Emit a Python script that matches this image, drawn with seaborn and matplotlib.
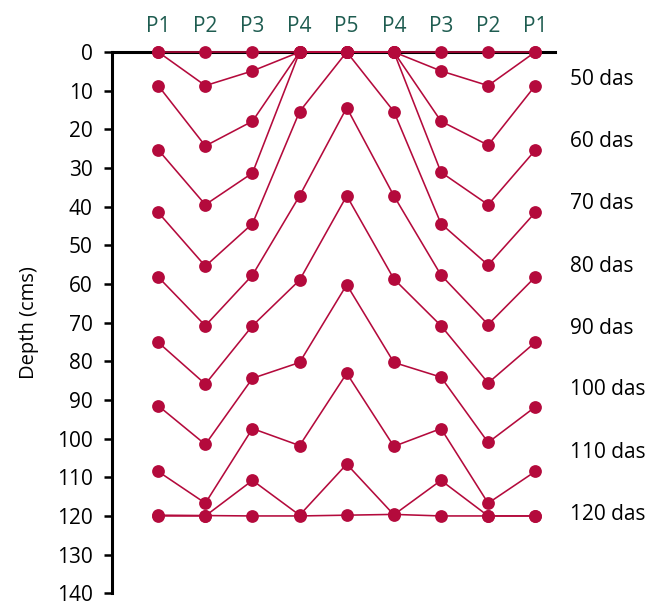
import pandas as pd
import matplotlib.pyplot as plt
import seaborn as sns

positions = ["P1", "P2", "P3", "P4", "P5", "P4", "P3", "P2", "P1"]

# wetting front depth (cm) at each position, one list per front line
front_0 = [0, 0, 0, 0, 0, 0, 0, 0, 0]
front_1 = [0, 8.7, 4.9, 0, 0, 0, 4.9, 8.7, 0]
front_2 = [8.7, 24.3, 17.9, 0, 0, 0, 17.9, 24.1, 8.7]
front_3 = [25.3, 39.5, 31.3, 0, 0, 0, 31.1, 39.5, 25.4]
front_4 = [41.5, 55.4, 44.4, 15.4, 0, 15.4, 44.4, 55.1, 41.5]
front_5 = [58.2, 70.8, 57.7, 37.2, 14.4, 37.2, 57.7, 70.5, 58.2]
front_6 = [75.1, 85.9, 70.8, 59.0, 37.2, 58.7, 70.8, 85.6, 75.1]
front_7 = [91.5, 101.5, 84.4, 80.3, 60.2, 80.3, 84.1, 101.0, 91.8]
front_8 = [108.5, 116.7, 97.4, 101.8, 83.1, 102.0, 97.4, 116.7, 108.5]
front_9 = [120, 120, 110.8, 119.8, 106.6, 119.7, 110.8, 120, 120]
front_10 = [119.8, 119.9, 120, 120, 119.8, 119.6, 120, 120, 120]

das_labels = ["50 das", "60 das", "70 das", "80 das", "90 das",
              "100 das", "110 das", "120 das"]
das_label_depth = [7.2, 23.1, 39.2, 55.4, 71.5, 87.4, 103.6, 119.7]

fronts = [front_0, front_1, front_2, front_3, front_4, front_5,
          front_6, front_7, front_8, front_9, front_10]
rows = []
for i, f in enumerate(fronts):
    for j, d in enumerate(f):
        rows.append({"front": i, "pos": j, "depth": d})
df = pd.DataFrame(rows)

red = "#B40A3C"
teal = "#1E5C50"

sns.set_style("white")
plt.rcParams["font.family"] = ["Open Sans", "DejaVu Sans"]
plt.rcParams["text.color"] = "black"
plt.rcParams["axes.labelcolor"] = "black"

fig = plt.figure(figsize=(6.54, 6.06), dpi=100)
ax = fig.add_axes([0.1713, 0.021, 0.6774, 0.8932])

sns.lineplot(data=df, x="pos", y="depth", units="front", estimator=None,
             sort=False, color=red, linewidth=1.15, marker="o", markersize=9.2,
             markeredgecolor=red, markeredgewidth=0, legend=False, ax=ax)
for line in ax.lines:
    line.set_clip_on(False)
    line.set_zorder(3)

ax.set_xlim(-0.98, 8.42)
ax.set_ylim(140, 0)

ax.xaxis.tick_top()
ax.set_xticks(range(len(positions)))
ax.set_xticklabels(positions, color=teal, fontsize=15)
ax.tick_params(axis="x", length=0, pad=11)
ax.set_yticks(range(0, 141, 10))
ax.tick_params(axis="y", length=6, width=1.8, labelsize=15, pad=8,
               left=True, color="black", labelcolor="black")

for s in ["right", "bottom"]:
    ax.spines[s].set_visible(False)
for s in ["top", "left"]:
    ax.spines[s].set_linewidth(2.2)
    ax.spines[s].set_color("black")

ax.set_xlabel("")
ax.set_ylabel("Depth (cms)", fontsize=14.5, labelpad=13)

for lab, d in zip(das_labels, das_label_depth):
    ax.text(8.74, d, lab, ha="left", va="center", fontsize=15)

fig.savefig("out.png", dpi=100)
